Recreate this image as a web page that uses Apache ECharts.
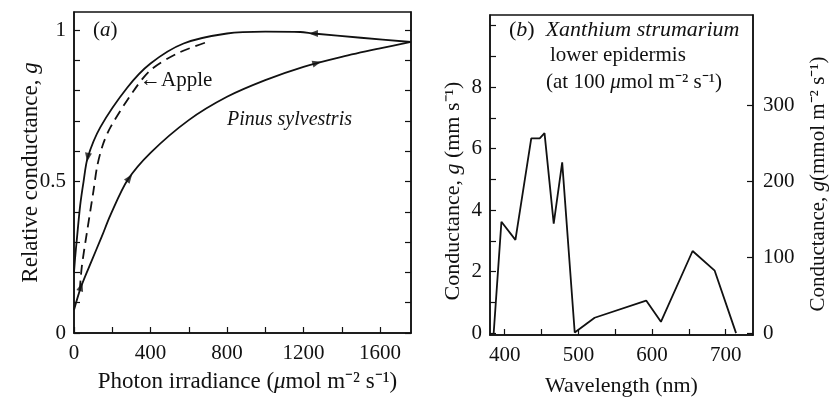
<!DOCTYPE html>
<html>
<head>
<meta charset="utf-8">
<script src="https://cdn.jsdelivr.net/npm/echarts@6/dist/echarts.min.js"></script>
<style>
  html, body { margin: 0; padding: 0; background: #fff; }
  #main { width: 830px; height: 402px; }
</style>
</head>
<body>
<div id="main"></div>
<script>
// (a) relative conductance vs photon irradiance
const pinusUp = [[0,0.076],[37,0.153],[90,0.235],[145,0.318],[191,0.39],[280,0.505],[400,0.595],[600,0.703],[800,0.78],[1000,0.835],[1200,0.879],[1400,0.912],[1600,0.94],[1762,0.961]];
const pinusDown = [[0,0.2],[6,0.25],[15,0.31],[32,0.42],[50,0.5],[72,0.58],[138,0.68],[278,0.81],[400,0.89],[573,0.956],[800,0.989],[1000,0.995],[1183,0.994],[1252,0.989],[1500,0.975],[1762,0.961]];
const apple = [[30,0.14],[41,0.22],[67,0.33],[102,0.47],[121,0.55],[150,0.62],[191,0.68],[312,0.8],[400,0.868],[539,0.923],[696,0.961]];
const arrowPts = [[72,0.58],[1252,0.989],[37,0.153],[290,0.512],[1270,0.892]];
const arrowAngles = [171, 90, -17, -37, -75];
const irrTicks = [0,200,400,600,800,1000,1200,1400,1600];
const irrLabels = [0,400,800,1200,1600];
const relTicks = [0,0.1,0.2,0.3,0.4,0.5,0.6,0.7,0.8,0.9,1];
const relLabels = [0,0.5,1];

// (b) Xanthium strumarium, conductance vs wavelength
const wavelength = [385,395.5,414.5,436,447.5,454,466.5,478,495,522,592,612,655,685,714];
const conductance = [0,3.62,3.03,6.33,6.33,6.5,3.56,5.55,0.02,0.5,1.06,0.37,2.67,2.03,0];
const wlTicks = [400,450,500,550,600,650,700];
const wlLabels = [400,500,600,700];
const gTicks = [0,1,2,3,4,5,6,7,8,9,10];
const gLabels = [0,2,4,6,8];
const molTicks = [0,100,200,300];

const FONT = 'Liberation Serif';
const ink = '#111';

function pairs(xs, ys) { return xs.map((x, i) => [x, ys[i]]); }

function valAxis(extra) {
  return Object.assign({
    type: 'value',
    nameMoveOverlap: false,
    axisLine: { show: true, onZero: false, lineStyle: { color: ink, width: 1.5 } },
    axisTick: { show: true, inside: true, length: 6, lineStyle: { color: ink, width: 1.2 } },
    axisLabel: { color: ink, fontFamily: FONT, fontSize: 21 },
    splitLine: { show: false },
    nameTextStyle: { color: ink, fontFamily: FONT, fontSize: 22 }
  }, extra);
}

function ticks(vals) {
  return { show: true, inside: true, length: 6, customValues: vals, lineStyle: { color: ink, width: 1.2 } };
}

function labels(vals, margin) {
  return { color: ink, fontFamily: FONT, fontSize: 21, margin: margin, customValues: vals,
    formatter: v => String(v) };
}

const chart = echarts.init(document.getElementById('main'));

chart.setOption({
  backgroundColor: '#fff',
  animation: false,
  grid: [
    { left: 74, top: 12, width: 337, height: 321, show: true, borderColor: ink, borderWidth: 1.5 },
    { left: 490, top: 15, width: 264, height: 322, show: true, borderColor: ink, borderWidth: 1.5 }
  ],
  xAxis: [
    valAxis({
      gridIndex: 0, min: 0, max: 1762,
      axisTick: ticks(irrTicks),
      axisLabel: labels(irrLabels, 10),
      name: 'Photon irradiance ({i|μ}mol m⁻² s⁻¹)', nameLocation: 'middle', nameGap: 37,
      nameTextStyle: { color: ink, fontFamily: FONT, fontSize: 23, padding: [0, 0, 0, 10],
        rich: { i: { fontStyle: 'italic', fontFamily: FONT, fontSize: 23, color: ink } } }
    }),
    valAxis({
      gridIndex: 1, min: 380, max: 737,
      axisTick: ticks(wlTicks),
      axisLabel: labels(wlLabels, 10),
      name: 'Wavelength (nm)', nameLocation: 'middle', nameGap: 40
    })
  ],
  yAxis: [
    valAxis({
      gridIndex: 0, min: 0, max: 1.06,
      axisTick: ticks(relTicks),
      axisLabel: labels(relLabels, 8),
      name: 'Relative conductance, {i|g}', nameLocation: 'middle', nameGap: 32,
      nameTextStyle: { color: ink, fontFamily: FONT, fontSize: 23,
        rich: { i: { fontStyle: 'italic', fontFamily: FONT, fontSize: 23, color: ink } } }
    }),
    valAxis({
      gridIndex: 0, min: 0, max: 1.06, position: 'right',
      axisTick: ticks(relTicks),
      axisLabel: { show: false }
    }),
    valAxis({
      gridIndex: 1, min: -0.06, max: 10.34,
      axisTick: ticks(gTicks),
      axisLabel: labels(gLabels, 8),
      name: 'Conductance, {i|g} (mm s⁻¹)', nameLocation: 'middle', nameGap: 26,
      nameTextStyle: { color: ink, fontFamily: FONT, fontSize: 22, padding: [0, 32, 0, 0],
        rich: { i: { fontStyle: 'italic', fontFamily: FONT, fontSize: 22, color: ink } } }
    }),
    valAxis({
      gridIndex: 1, min: -2.4, max: 419, position: 'right',
      axisTick: ticks(molTicks),
      axisLabel: labels(molTicks, 10),
      name: 'Conductance, {i|g}(mmol m⁻² s⁻¹)', nameLocation: 'middle', nameGap: 55,
      nameTextStyle: { color: ink, fontFamily: FONT, fontSize: 21, padding: [0, 18, 0, 0],
        rich: { i: { fontStyle: 'italic', fontFamily: FONT, fontSize: 21, color: ink } } }
    })
  ],
  series: [
    { type: 'line', xAxisIndex: 0, yAxisIndex: 0, data: pinusUp, smooth: 0.3, symbol: 'none',
      lineStyle: { color: ink, width: 1.8 } },
    { type: 'line', xAxisIndex: 0, yAxisIndex: 0, data: pinusDown, smooth: 0.3, symbol: 'none',
      lineStyle: { color: ink, width: 1.8 } },
    { type: 'line', xAxisIndex: 0, yAxisIndex: 0, data: apple, smooth: 0.3, symbol: 'none',
      lineStyle: { color: ink, width: 1.8, type: [10, 6] } },
    { type: 'scatter', xAxisIndex: 0, yAxisIndex: 0, symbol: 'triangle', symbolSize: [7, 9],
      data: arrowPts.map((p, i) => ({ value: p, symbolRotate: arrowAngles[i] })),
      itemStyle: { color: ink } },
    { type: 'line', xAxisIndex: 1, yAxisIndex: 2, data: pairs(wavelength, conductance), symbol: 'none',
      lineStyle: { color: ink, width: 1.8 } }
  ],
  graphic: [
    { type: 'text', left: 93, top: 20, style: { text: '({i|a})', fill: ink, font: '21px "Liberation Serif"',
      rich: { i: { fontStyle: 'italic', fontFamily: FONT, fontSize: 21, fill: ink } } } },
    { type: 'text', left: 140, top: 70, style: { text: '←Apple', fill: ink, font: '21px "Liberation Serif"' } },
    { type: 'text', left: 227, top: 110, style: { text: 'Pinus sylvestris', fill: ink, font: 'italic 20px "Liberation Serif"' } },
    { type: 'text', left: 509, top: 19, style: { text: '({i|b})  {i|Xanthium strumarium}', fill: ink, font: '22px "Liberation Serif"',
      rich: { i: { fontStyle: 'italic', fontFamily: FONT, fontSize: 22, fill: ink } } } },
    { type: 'text', left: 550, top: 45, style: { text: 'lower epidermis', fill: ink, font: '21px "Liberation Serif"' } },
    { type: 'text', left: 546, top: 72, style: { text: '(at 100 {i|μ}mol m⁻² s⁻¹)', fill: ink, font: '21px "Liberation Serif"',
      rich: { i: { fontStyle: 'italic', fontFamily: FONT, fontSize: 21, fill: ink } } } }
  ]
});
</script>
</body>
</html>
